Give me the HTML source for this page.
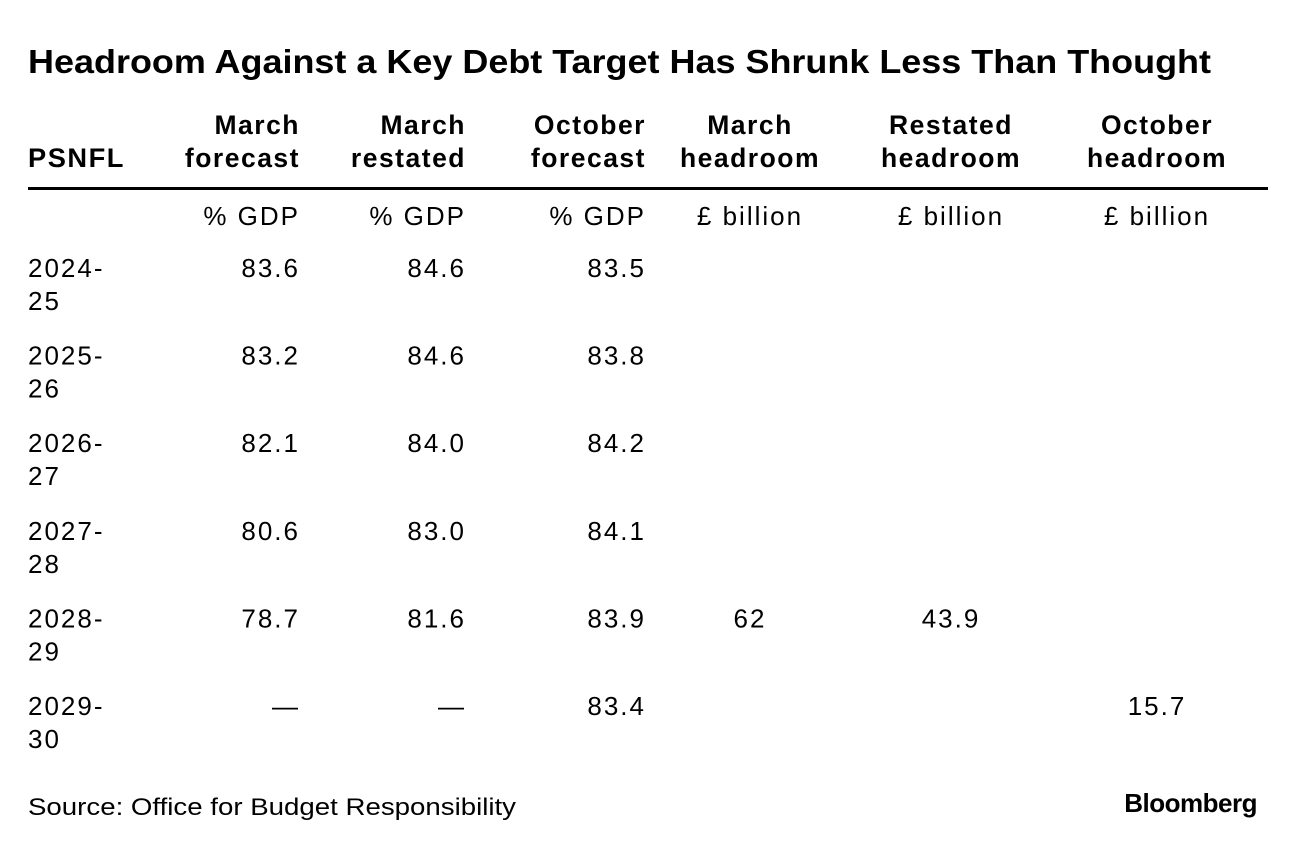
<!DOCTYPE html>
<html><head><meta charset="utf-8"><style>
html,body{margin:0;padding:0;background:#fff;}
svg{display:block;font-family:"Liberation Sans",Arial,sans-serif;}
</style></head><body>
<svg width="1296" height="848" viewBox="0 0 1296 848">
<text x="28" y="73" font-size="33" font-weight="bold" fill="#000" textLength="1183" lengthAdjust="spacingAndGlyphs">Headroom Against a Key Debt Target Has Shrunk Less Than Thought</text>
<g font-size="26.5" font-weight="bold" fill="#000" letter-spacing="1.5">
<text x="28" y="167" textLength="97" lengthAdjust="spacingAndGlyphs">PSNFL</text>
<text x="300" y="134" text-anchor="end">March</text>
<text x="300" y="167" text-anchor="end">forecast</text>
<text x="466" y="134" text-anchor="end">March</text>
<text x="466" y="167" text-anchor="end">restated</text>
<text x="646" y="134" text-anchor="end">October</text>
<text x="646" y="167" text-anchor="end">forecast</text>
<text x="750" y="134" text-anchor="middle">March</text>
<text x="750" y="167" text-anchor="middle">headroom</text>
<text x="951" y="134" text-anchor="middle">Restated</text>
<text x="951" y="167" text-anchor="middle">headroom</text>
<text x="1157" y="134" text-anchor="middle">October</text>
<text x="1157" y="167" text-anchor="middle">headroom</text>
</g>
<rect x="28" y="187" width="1240" height="3" fill="#000"/>
<g id="body" font-size="26" letter-spacing="2" fill="#000"></g>
<text x="28" y="815" font-size="24" fill="#000" textLength="488" lengthAdjust="spacingAndGlyphs">Source: Office for Budget Responsibility</text>
<text x="1257" y="812" font-size="26" font-weight="bold" fill="#000" text-anchor="end" letter-spacing="-0.5">Bloomberg</text>
</svg>
<script>
const years=["2024-","2025-","2026-","2027-","2028-","2029-"];
const years2=["25","26","27","28","29","30"];
const marchForecast=["83.6","83.2","82.1","80.6","78.7","—"];
const marchRestated=["84.6","84.6","84.0","83.0","81.6","—"];
const octForecast=["83.5","83.8","84.2","84.1","83.9","83.4"];
const marchHeadroom=["","","","","62",""];
const restatedHeadroom=["","","","","43.9",""];
const octHeadroom=["","","","","","15.7"];
const units=["% GDP","% GDP","% GDP","£ billion","£ billion","£ billion"];
const ns="http://www.w3.org/2000/svg";
const g=document.getElementById('body');
function t(x,y,s,anchor,name){
  const e=document.createElementNS(ns,'text');
  e.setAttribute('x',x);e.setAttribute('y',y);
  e.setAttribute('text-anchor',anchor);
  
  
  e.textContent=s;g.appendChild(e);
}
const colX=[300,466,646,750,951,1157];
const colA=["end","end","end","middle","middle","middle"];
units.forEach((u,i)=>t(colX[i],225,u,colA[i],'unit-label'));
const cols=[marchForecast,marchRestated,octForecast,marchHeadroom,restatedHeadroom,octHeadroom];
years.forEach((y,r)=>{
  const by=277+r*87.6;
  t(28,by,y,'start','year-label');
  t(28,by+33,years2[r],'start','year-label');
  cols.forEach((c,i)=>{ if(c[r]) t(colX[i],by,c[r],colA[i],'table-cell'); });
});
</script>
</body></html>
